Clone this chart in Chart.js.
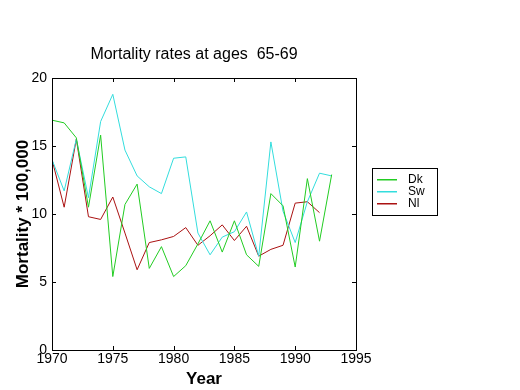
<!DOCTYPE html>
<html>
<head>
<meta charset="utf-8">
<script src="https://cdn.jsdelivr.net/npm/chart.js@4.4.0/dist/chart.umd.min.js"></script>
<style>
html,body{margin:0;padding:0;background:#fff;}
#wrap{width:520px;height:390px;position:relative;}
</style>
</head>
<body>
<div id="wrap"><canvas id="c" width="520" height="390"></canvas></div>
<script>
const years = [1970,1971,1972,1973,1974,1975,1976,1977,1978,1979,1980,1981,1982,1983,1984,1985,1986,1987,1988,1989,1990,1991,1992,1993];
const dk = [16.9,16.7,15.6,10.5,15.8,5.4,10.7,12.2,6.0,7.6,5.4,6.2,7.8,9.5,7.2,9.5,7.0,6.15,11.5,10.6,6.1,12.6,8.0,12.9];
const sw = [14.0,11.7,15.5,11.2,16.8,18.8,14.7,12.8,12.0,11.5,14.1,14.2,8.6,7.0,8.3,8.7,10.15,6.9,15.3,10.2,7.9,10.9,13.0,12.8];
const nl = [14.0,10.5,15.5,9.8,9.6,11.25,8.6,5.9,7.9,8.1,8.35,9.0,7.7,8.4,9.2,8.05,9.1,6.9,7.4,7.7,10.8,10.9,10.1];
const seriesLabels = ['Dk','Sw','Nl'];
const seriesColors = ['#22cc22','#33dddd','#aa1111'];
const xTicks = [1970,1975,1980,1985,1990,1995];
const yTicks = [0,5,10,15,20];
const titleText = 'Mortality rates at ages  65-69';
const xTitle = 'Year';
const yTitle = 'Mortality * 100,000';

const tickFont = {family:"'Liberation Sans',Arial,sans-serif", size:14};

function pts(arr){ return arr.map((v,i)=>({x:years[i], y:v})); }

const framePlugin = {
  id:'frame',
  afterDraw(chart){
    const {ctx, chartArea:a, scales:{x, y}} = chart;
    ctx.save();
    ctx.strokeStyle = '#000';
    ctx.lineWidth = 1;
    ctx.strokeRect(Math.round(a.left)+0.5, Math.round(a.top)+0.5, Math.round(a.right-a.left), Math.round(a.bottom-a.top));
    ctx.beginPath();
    xTicks.forEach(t=>{
      const px = Math.round(x.getPixelForValue(t))+0.5;
      ctx.moveTo(px, a.bottom); ctx.lineTo(px, a.bottom-4);
      ctx.moveTo(px, a.top); ctx.lineTo(px, a.top+4);
    });
    yTicks.forEach(t=>{
      const py = Math.round(y.getPixelForValue(t))+0.5;
      ctx.moveTo(a.left, py); ctx.lineTo(a.left+4, py);
      ctx.moveTo(a.right, py); ctx.lineTo(a.right-4, py);
    });
    ctx.stroke();
    // title
    ctx.fillStyle = '#000';
    ctx.font = "16px 'Liberation Sans', Arial, sans-serif";
    ctx.textAlign = 'center';
    ctx.textBaseline = 'alphabetic';
    ctx.fillText(titleText, 194, 59);
    // legend
    ctx.strokeStyle = '#000';
    ctx.strokeRect(372.5, 168.5, 65, 47);
    ctx.font = "12px 'Liberation Sans', Arial, sans-serif";
    ctx.textAlign = 'left';
    ctx.textBaseline = 'middle';
    const ly = [179, 191, 203];
    seriesLabels.forEach((lab,i)=>{
      ctx.fillStyle = seriesColors[i];
      ctx.fillRect(377, ly[i], 20, 1.5);
      ctx.fillStyle = '#000';
      ctx.fillText(lab, 408, ly[i]+0.5);
    });
    ctx.restore();
  }
};

new Chart(document.getElementById('c'), {
  type:'line',
  data:{
    datasets:[
      {label:seriesLabels[0], data:pts(dk), borderColor:seriesColors[0]},
      {label:seriesLabels[1], data:pts(sw), borderColor:seriesColors[1]},
      {label:seriesLabels[2], data:pts(nl), borderColor:seriesColors[2]}
    ].map(d=>Object.assign(d,{borderWidth:1, pointRadius:0, tension:0, fill:false}))
  },
  options:{
    responsive:false,
    animation:false,
    layout:{padding:{left:0, top:78, right:164, bottom:0}},
    plugins:{legend:{display:false}, title:{display:false}, tooltip:{enabled:false}},
    scales:{
      x:{
        type:'linear', min:1970, max:1995,
        afterFit(s){ s.height = 40; },
        afterBuildTicks(s){ s.ticks = xTicks.map(v=>({value:v})); },
        grid:{display:false, drawTicks:false}, border:{display:false},
        ticks:{font:tickFont, color:'#000', padding:1, maxRotation:0, callback:v=>String(v)},
        title:{display:true, text:xTitle, color:'#000', font:{family:"'Liberation Sans', Arial, sans-serif", size:17, weight:'bold'}, padding:{top:0,bottom:0}}
      },
      y:{
        min:0, max:20,
        afterFit(s){ s.width = 52; },
        afterBuildTicks(s){ s.ticks = yTicks.map(v=>({value:v})); },
        grid:{display:false, drawTicks:false}, border:{display:false},
        ticks:{font:tickFont, color:'#000', padding:5, callback:v=>String(v)},
        title:{display:true, text:yTitle, color:'#000', font:{family:"'Liberation Sans', Arial, sans-serif", size:17, weight:'bold'}, padding:{top:13,bottom:0}}
      }
    }
  },
  plugins:[framePlugin]
});
</script>
</body>
</html>
